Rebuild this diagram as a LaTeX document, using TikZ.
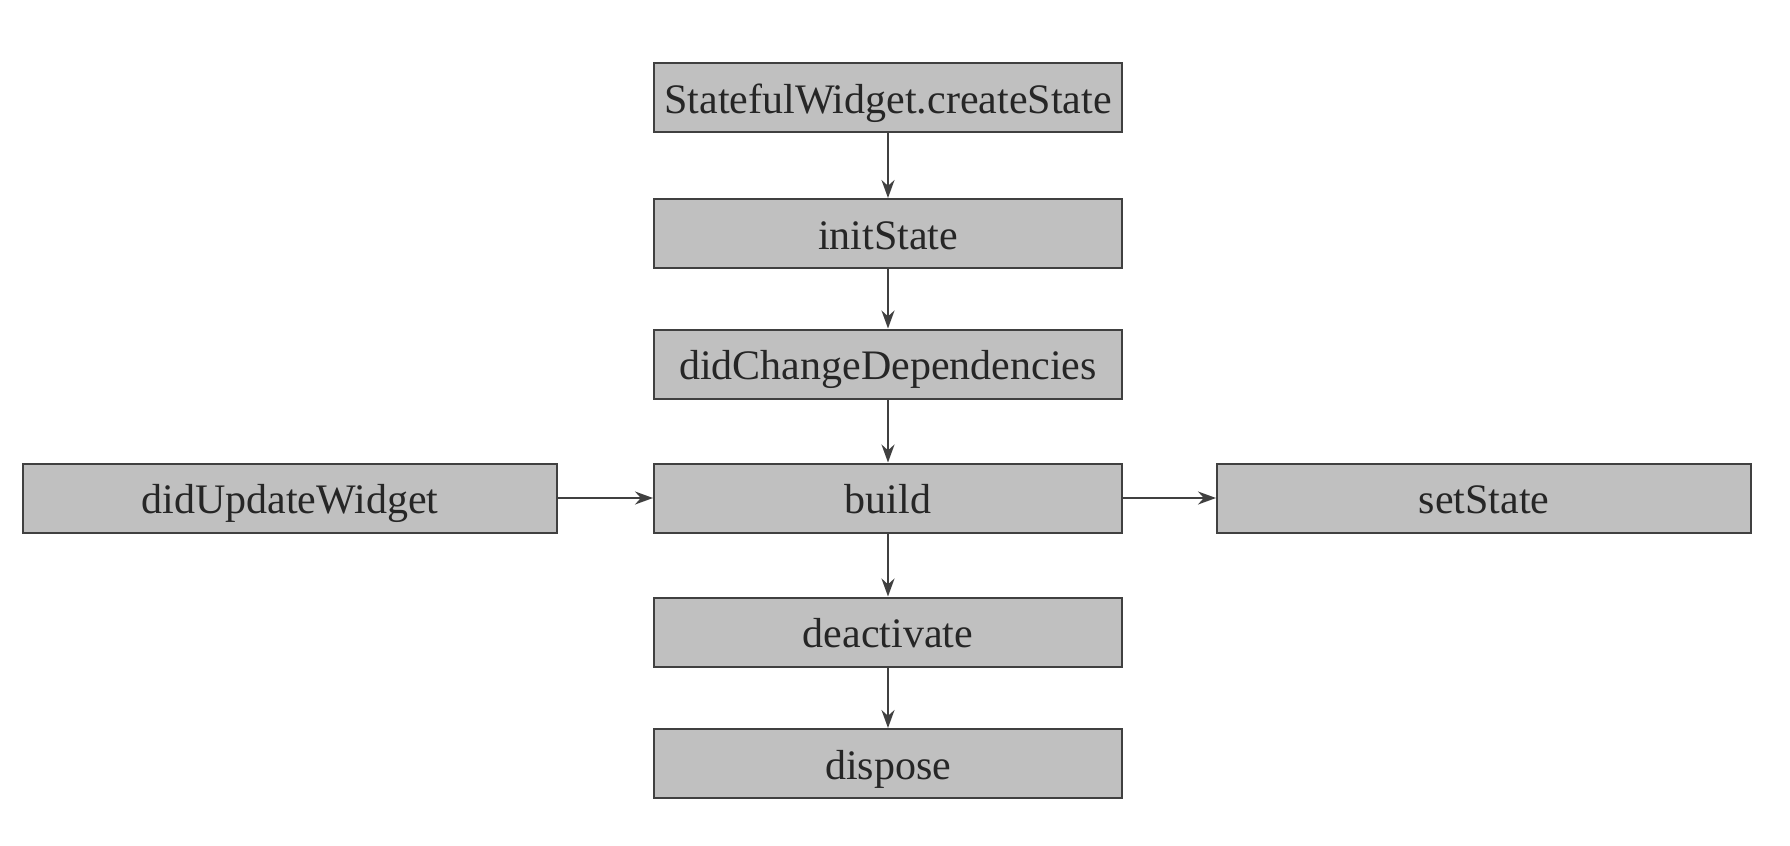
\documentclass[tikz,border=0pt]{standalone}
\usepackage{fontspec}
\setmainfont{Liberation Serif}
\usetikzlibrary{arrows.meta}
\definecolor{boxfill}{RGB}{192,192,192}
\definecolor{boxline}{RGB}{64,64,64}
\begin{document}
\begin{tikzpicture}[x=0.5pt,y=-0.5pt,
  box/.style={draw=boxline,fill=boxfill,line width=1pt,minimum height=34.5pt,inner sep=0pt,text height=15.5pt,text depth=0pt,font=\fontsize{21}{24}\selectfont,text=black!85},
  midbox/.style={box,minimum width=234pt},
  sidebox/.style={box,minimum width=267pt},
  arr/.style={draw=boxline,line width=1pt,-{Stealth[length=9pt,width=6.5pt]}}]
\useasboundingbox (0,0) rectangle (1790,846);
\node[midbox] (create) at (888,97.5) {StatefulWidget.createState};
\node[midbox] (init) at (888,233.5) {initState};
\node[midbox] (deps) at (888,364) {didChangeDependencies};
\node[midbox] (build) at (888,498) {build};
\node[midbox] (deact) at (888,632) {deactivate};
\node[midbox] (dispose) at (888,763.5) {dispose};
\node[sidebox] (update) at (290,498) {didUpdateWidget};
\node[sidebox] (set) at (1484,498) {setState};
\draw[arr] (create) -- (init);
\draw[arr] (init) -- (deps);
\draw[arr] (deps) -- (build);
\draw[arr] (build) -- (deact);
\draw[arr] (deact) -- (dispose);
\draw[arr] (update) -- (build);
\draw[arr] (build) -- (set);
\end{tikzpicture}
\end{document}
